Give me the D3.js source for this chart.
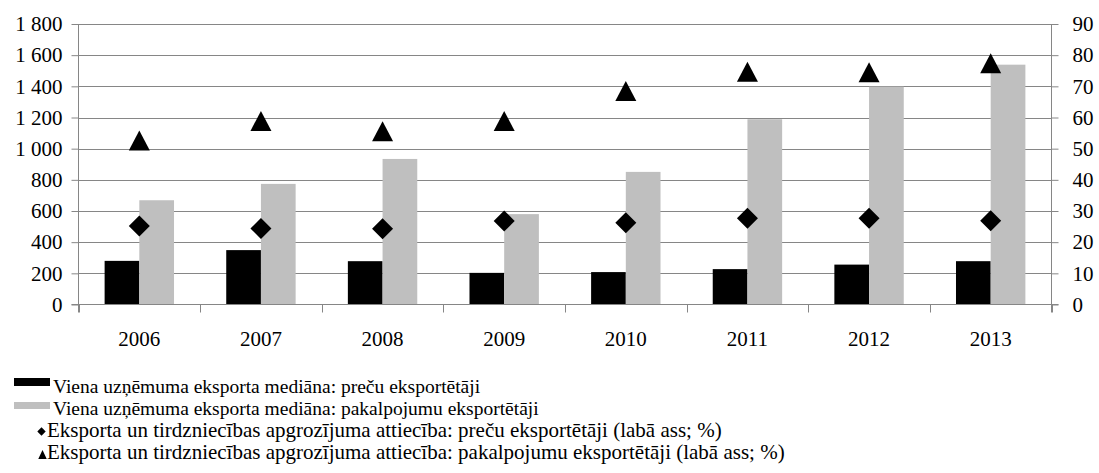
<!DOCTYPE html>
<html>
<head>
<meta charset="utf-8">
<script src="https://cdn.jsdelivr.net/npm/d3@7"></script>
<style>
html,body{margin:0;padding:0;background:#fff;}
svg{display:block;font-family:"Liberation Serif","Times New Roman",serif;}
</style>
</head>
<body>
<svg id="chart" width="1099" height="473"></svg>
<script>
const years = ["2006","2007","2008","2009","2010","2011","2012","2013"];
const goodsMedian = [280, 349, 278, 203, 208, 227, 256, 278];
const servicesMedian = [669, 774, 934, 580, 851, 1189, 1398, 1539];
const goodsRatio = [25.2, 24.4, 24.3, 26.8, 26.2, 27.7, 27.7, 26.9];
const servicesRatio = [52.6, 58.9, 55.6, 58.9, 68.5, 74.7, 74.5, 77.4];
const leftTicks = [0,200,400,600,800,1000,1200,1400,1600,1800];
const rightTicks = [0,10,20,30,40,50,60,70,80,90];
const legendLabels = [
  "Viena uzņēmuma eksporta mediāna: preču eksportētāji",
  "Viena uzņēmuma eksporta mediāna: pakalpojumu eksportētāji",
  "Eksporta un tirdzniecības apgrozījuma attiecība: preču eksportētāji (labā ass; %)",
  "Eksporta un tirdzniecības apgrozījuma attiecība: pakalpojumu eksportētāji (labā ass; %)"
];

const svg = d3.select("#chart");
const L = 78.5, R = 1051.5, T = 24, B = 304.5;
const axisCol = "#868686", gridCol = "#868686";
const fmt = v => d3.format(",")(v).replace(/,/g, "\u00a0");

const x0 = d3.scaleBand().domain(years).range([L, R]).padding(0);
const bw = x0.bandwidth();
const x1 = d3.scaleBand().domain(["g","s"]).range([bw*0.2147, bw*0.7853]).padding(0);
const yL = d3.scaleLinear().domain([0,1800]).range([B, T]);
const yR = d3.scaleLinear().domain([0,90]).range([B, T]);

// gridlines
svg.append("g").selectAll("line").data(leftTicks.filter(d=>d>0)).join("line")
  .attr("x1", L).attr("x2", R)
  .attr("y1", d=>Math.round(yL(d))+0.5).attr("y2", d=>Math.round(yL(d))+0.5)
  .attr("stroke", gridCol).attr("stroke-width", 1);

// bars
const bars = svg.append("g");
years.forEach((yr, i) => {
  bars.append("rect")
    .attr("x", x0(yr)+x1("g")).attr("width", x1.bandwidth())
    .attr("y", yL(goodsMedian[i])).attr("height", B - yL(goodsMedian[i]))
    .attr("fill", "#000");
  bars.append("rect")
    .attr("x", x0(yr)+x1("s")).attr("width", x1.bandwidth())
    .attr("y", yL(servicesMedian[i])).attr("height", B - yL(servicesMedian[i]))
    .attr("fill", "#bfbfbf");
});

// left axis
const la = svg.append("g").attr("transform", `translate(${L},0)`)
  .call(d3.axisLeft(yL).tickValues(leftTicks).tickFormat(fmt).tickSize(7).tickPadding(9));
// right axis
const ra = svg.append("g").attr("transform", `translate(${R},0)`)
  .call(d3.axisRight(yR).tickValues(rightTicks).tickFormat(d3.format("d")).tickSize(7).tickPadding(14));
[la, ra].forEach(a => {
  a.select(".domain").remove();
  a.selectAll(".tick line").attr("stroke", axisCol);
  a.selectAll(".tick text").attr("font-size", 21).attr("fill", "#000")
    .style("font-family", '"Liberation Serif","Times New Roman",serif');
});
// vertical axis lines
svg.append("line").attr("x1", L).attr("x2", L).attr("y1", T).attr("y2", B+8).attr("stroke", axisCol);
svg.append("line").attr("x1", R).attr("x2", R).attr("y1", T).attr("y2", B+8).attr("stroke", axisCol);

// x axis
svg.append("line").attr("x1", L-7).attr("x2", R+7).attr("y1", B).attr("y2", B).attr("stroke", axisCol);
const boundaries = years.map(y => x0(y)).concat([R]);
svg.append("g").selectAll("line").data(boundaries).join("line")
  .attr("x1", d=>Math.round(d)+0.5).attr("x2", d=>Math.round(d)+0.5)
  .attr("y1", B).attr("y2", B+8).attr("stroke", axisCol);
svg.append("g").selectAll("text").data(years).join("text")
  .attr("x", d => x0(d)+bw/2).attr("y", 346)
  .attr("text-anchor", "middle").attr("font-size", 21).text(d=>d);

// markers
const diamond = (cx, cy, r) => `M${cx},${cy-r}L${cx+r},${cy}L${cx},${cy+r}L${cx-r},${cy}Z`;
const tri = (cx, cy, w, h) => `M${cx},${cy-h/2}L${cx+w/2},${cy+h/2}L${cx-w/2},${cy+h/2}Z`;
svg.append("g").selectAll("path").data(years).join("path")
  .attr("d", (d,i) => diamond(x0(d)+bw/2, yR(goodsRatio[i]), 10.5)).attr("fill", "#000");
svg.append("g").selectAll("path").data(years).join("path")
  .attr("d", (d,i) => tri(x0(d)+bw/2, yR(servicesRatio[i]), 21, 20)).attr("fill", "#000");

// legend
const lg = svg.append("g");
const base = [393, 415, 437, 459];
lg.append("rect").attr("x", 14).attr("y", base[0]-15).attr("width", 36).attr("height", 8).attr("fill", "#000");
lg.append("rect").attr("x", 14).attr("y", base[1]-13).attr("width", 36).attr("height", 7).attr("fill", "#bfbfbf");
lg.append("path").attr("d", diamond(41.5, base[2]-5.5, 4.2)).attr("fill", "#000");
lg.append("path").attr("d", tri(42.5, base[3]-4.5, 8.5, 9)).attr("fill", "#000");
lg.selectAll("text").data(legendLabels).join("text")
  .attr("x", (d,i) => i < 2 ? 53 : 47).attr("y", (d,i) => base[i])
  .attr("font-size", (d,i) => i < 2 ? 19.5 : 21).text(d => d);
</script>
</body>
</html>
